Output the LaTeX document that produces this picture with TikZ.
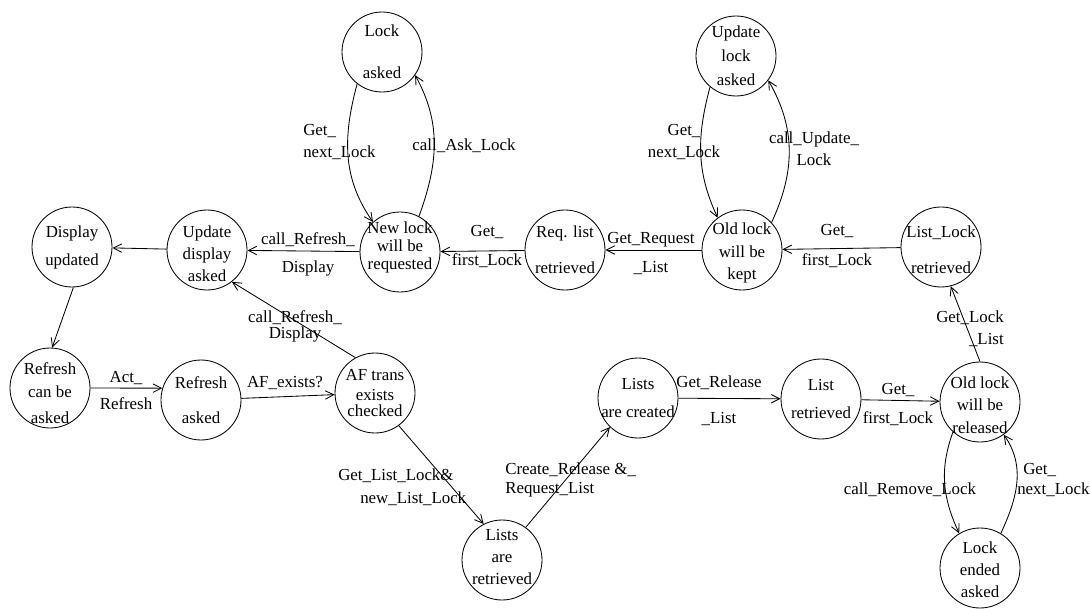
\documentclass[tikz,border=0pt]{standalone}
\usepackage{fontspec}
\setmainfont{Liberation Serif}
\usetikzlibrary{arrows.meta}

\begin{document}
\begin{tikzpicture}[scale=1.0,>={Straight Barb[length=6pt,width=6pt]},
    state/.style={draw,circle,minimum size=2cm,inner sep=0pt,line width=0.6pt},
    txt/.style={align=center,inner sep=0pt,font=\fontsize{12}{14}\selectfont},
    tr/.style={->,line width=0.6pt}]
      \useasboundingbox (0,0) rectangle (27.275,15.2);
      % states
      \node[state] (dispupd) at (1.80,9.025) {};
      \node[state] (upddisp) at (5.175,8.95) {};
      \node[state] (newlock) at (10.00,8.90) {};
      \node[state] (lockask) at (9.55,13.90) {};
      \node[state] (reqlist) at (14.125,8.95) {};
      \node[state] (oldkept) at (18.55,8.95) {};
      \node[state] (updlock) at (18.40,13.80) {};
      \node[state] (listlock) at (23.525,9.025) {};
      \node[state] (oldrel) at (24.50,5.15) {};
      \node[state] (lockend) at (24.50,1.00) {};
      \node[state] (listret) at (20.525,5.225) {};
      \node[state] (listcre) at (15.95,5.25) {};
      \node[state] (listsret) at (12.55,1.20) {};
      \node[state] (afcheck) at (9.375,5.375) {};
      \node[state] (refask) at (5.025,5.20) {};
      \node[state] (refcan) at (1.25,5.50) {};
      % state texts
      \node[txt] (dispupd-t) at (dispupd) {Display\\[6pt]updated};
      \node[txt,yshift=-0.1cm] (upddisp-t) at (upddisp) {Update\\[1.6pt]display\\[1.6pt]asked};
      \node[txt,yshift=0.12cm] (newlock-t) at (newlock) {New lock\\[-1.2pt]will be\\[-1.2pt]requested};
      \node[txt] (lockask-t) at (lockask) {Lock\\[16pt]asked};
      \node[txt] (reqlist-t) at (reqlist) {Req. list\\[11.6pt]retrieved};
      \node[txt,yshift=-0.075cm] (oldkept-t) at (oldkept) {Old lock\\[2pt]will be\\[2pt]kept};
      \node[txt] (updlock-t) at (updlock) {Update\\[3pt]lock\\[3pt]asked};
      \node[txt,yshift=-0.075cm] (listlock-t) at (listlock) {List\_Lock\\[11.6pt]retrieved};
      \node[txt,yshift=-0.075cm] (oldrel-t) at (oldrel) {Old lock\\[2pt]will be\\[2pt]released};
      \node[txt,yshift=-0.05cm] (lockend-t) at (lockend) {Lock\\[1.6pt]ended\\[1.6pt]asked};
      \node[txt] (listret-t) at (listret) {List\\[6.6pt]retrieved};
      \node[txt] (listcre-t) at (listcre) {Lists\\[6pt]are created};
      \node[txt,yshift=0.075cm] (listsret-t) at (listsret) {Lists\\[1.3pt]are\\[1.3pt]retrieved};
      \node[txt] (afcheck-t) at (afcheck) {AF trans\\[0.5pt]exists\\[-3pt]checked};
      \node[txt] (refask-t) at (refask) {Refresh\\[11pt]asked};
      \node[txt,yshift=-0.125cm] (refcan-t) at (refcan) {Refresh\\[2.5pt]can be\\[4.5pt]asked};
      % transitions
      \draw[tr] (upddisp) -- (dispupd);
      \draw[tr] (newlock) -- (upddisp);
      \draw[tr] (reqlist) -- (newlock);
      \draw[tr] (oldkept) -- (reqlist);
      \draw[tr] (listlock) -- (oldkept);
      \draw[tr] (lockask.232) to[out=255,in=125] (newlock.132);
      \draw[tr] (newlock.62) to[out=70,in=-61] (lockask.-35);
      \draw[tr] (updlock.230) to[out=255,in=115] (oldkept.127);
      \draw[tr] (oldkept.43) to[out=65,in=-60] (updlock.-37);
      \draw[tr] (dispupd.272) -- (refcan.87);
      \draw[tr] (refcan.east) -- (refask.163);
      \draw[tr] (refask) -- (afcheck);
      \draw[tr] (afcheck.119) -- (upddisp.-52);
      \draw[tr] (afcheck.-54) -- (listsret.117);
      \draw[tr] (listsret.54) -- (listcre.226);
      \draw[tr] (listcre) -- (listret);
      \draw[tr] (listret) -- (oldrel);
      \draw[tr] (oldrel.90) -- (listlock.-76);
      \draw[tr] (oldrel.228) to[out=250,in=115] (lockend.121);
      \draw[tr] (lockend.59) to[out=65,in=-55] (oldrel.-54);
      % transition labels
      \node[txt] (l-refdisp) at (7.70,8.85) {call\_Refresh\_\\[6pt]Display};
      \node[txt] (l-first1) at (12.175,9.0375) {Get\_\\[6.6pt]first\_Lock};
      \node[txt] (l-getreq) at (16.275,8.8625) {Get\_Request\\[6.6pt]\_List};
      \node[txt] (l-first2) at (20.925,9.05) {Get\_\\[7pt]first\_Lock};
      \node[txt,align=left,anchor=west] (l-next1) at (7.575,11.65) {Get\_\\[1.6pt]next\_Lock};
      \node[txt] (l-asklock) at (11.60,11.55) {call\_Ask\_Lock};
      \node[txt] (l-next2) at (17.10,11.65) {Get\_\\[1pt]next\_Lock};
      \node[txt] (l-updlock) at (20.35,11.475) {call\_Update\_\\[1.6pt]Lock};
      \node[txt] (l-act) at (3.15,5.4375) {Act\_\\[5.2pt]Refresh};
      \node[txt] (l-afex) at (7.125,5.625) {AF\_exists?};
      \node[txt] (l-refdisp2) at (7.375,7.05) {call\_Refresh\_\\[-2.5pt]Display};
      \node[txt,align=left,anchor=west] (l-getlist) at (8.45,3.0125) {Get\_List\_Lock\&\\[2.4pt]\hspace*{0.55cm}new\_List\_Lock};
      \node[txt,align=left,anchor=west] (l-create) at (12.625,3.20) {Create\_Release \&\_\\[0pt]Request\_List};
      \node[txt] (l-getrel) at (17.975,5.175) {Get\_Release\\[11.6pt]\_List};
      \node[txt] (l-first3) at (22.45,5.0875) {Get\_\\[6pt]first\_Lock};
      \node[txt,align=right,anchor=east] (l-getlock) at (25.10,6.975) {Get\_Lock\\[1.6pt]\_List};
      \node[txt] (l-remove) at (22.75,2.95) {call\_Remove\_Lock};
      \node[txt,align=left,anchor=west] (l-next3) at (25.425,3.20) {\hspace*{0.15cm}Get\_\\[0.2pt]next\_Lock};
    \end{tikzpicture}
\end{document}
